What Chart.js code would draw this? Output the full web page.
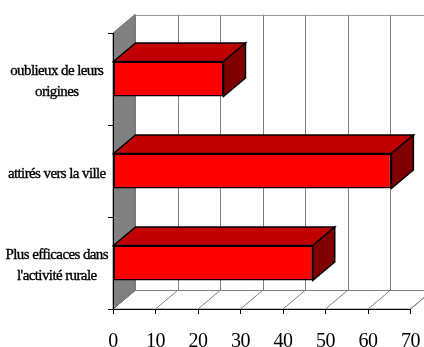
<!DOCTYPE html>
<html>
<head>
<meta charset="utf-8">
<script src="https://cdn.jsdelivr.net/npm/chart.js@4/dist/chart.umd.min.js"></script>
<style>
  html, body { margin: 0; padding: 0; background: #ffffff; }
  #wrap { width: 424px; height: 347px; }
</style>
</head>
<body>
<div id="wrap"><canvas id="c" width="424" height="347"></canvas></div>
<script>
// Survey answers, listed top to bottom
const categories = [
  ["oublieux de leurs", "origines"],
  ["attirés vers la ville"],
  ["Plus efficaces dans", "l'activité rurale"]
];
const values = [26, 65.5, 47];

// Value axis range
const axisMin = 0;
const axisMax = 70;
const axisStep = 10;

// Depth of the pseudo-3D box (pixels to the right / upwards)
const DEPTH_X = 22;
const DEPTH_Y = 18.5;

const FRONT = '#ff0000';
const TOP = '#c00000';
const SIDE = '#800000';
const WALL = '#808080';
const GRID = '#808080';

function setSpacing(ctx) {
  if ('letterSpacing' in ctx) ctx.letterSpacing = '-0.6px';
}

const box3d = {
  id: 'box3d',
  beforeUpdate(chart) { setSpacing(chart.ctx); },
  beforeDraw(chart) {
    const ctx = chart.ctx;
    setSpacing(ctx);
    const a = chart.chartArea;
    const xs = chart.scales.x;
    const L = a.left, R = a.right, T = a.top, B = a.bottom;
    ctx.save();
    // back wall
    ctx.fillStyle = '#ffffff';
    ctx.fillRect(L + DEPTH_X, T - DEPTH_Y, R - L, B - T);
    // vertical gridlines on the back wall
    ctx.strokeStyle = GRID;
    ctx.lineWidth = 1;
    xs.ticks.forEach(t => {
      const px = Math.round(xs.getPixelForValue(t.value) + DEPTH_X) + 0.5;
      ctx.beginPath();
      ctx.moveTo(px, T - DEPTH_Y);
      ctx.lineTo(px, B - DEPTH_Y);
      ctx.stroke();
    });
    // top edge of the back wall
    ctx.strokeStyle = '#9a9a9a';
    ctx.beginPath();
    ctx.moveTo(L + DEPTH_X, Math.round(T - DEPTH_Y) + 0.5);
    ctx.lineTo(R + DEPTH_X, Math.round(T - DEPTH_Y) + 0.5);
    ctx.stroke();
    // floor
    ctx.fillStyle = '#ffffff';
    ctx.strokeStyle = GRID;
    ctx.beginPath();
    ctx.moveTo(L, B);
    ctx.lineTo(R, B);
    ctx.lineTo(R + DEPTH_X, B - DEPTH_Y);
    ctx.lineTo(L + DEPTH_X, B - DEPTH_Y);
    ctx.closePath();
    ctx.fill();
    ctx.stroke();
    xs.ticks.forEach(t => {
      const px = xs.getPixelForValue(t.value);
      ctx.beginPath();
      ctx.moveTo(px, B);
      ctx.lineTo(px + DEPTH_X, B - DEPTH_Y);
      ctx.stroke();
    });
    // left side wall
    ctx.fillStyle = WALL;
    ctx.strokeStyle = '#707070';
    ctx.beginPath();
    ctx.moveTo(L, T);
    ctx.lineTo(L + DEPTH_X, T - DEPTH_Y);
    ctx.lineTo(L + DEPTH_X, B - DEPTH_Y);
    ctx.lineTo(L, B);
    ctx.closePath();
    ctx.fill();
    ctx.stroke();
    ctx.restore();
  },
  beforeDatasetsDraw(chart) {
    const ctx = chart.ctx;
    const meta = chart.getDatasetMeta(0);
    ctx.save();
    ctx.lineWidth = 1.5;
    ctx.strokeStyle = '#000000';
    ctx.lineJoin = 'miter';
    meta.data.forEach(bar => {
      const p = bar.getProps(['x', 'y', 'base', 'height'], true);
      const top = p.y - p.height / 2;
      const bot = p.y + p.height / 2;
      // top face
      ctx.fillStyle = TOP;
      ctx.beginPath();
      ctx.moveTo(p.base, top);
      ctx.lineTo(p.x, top);
      ctx.lineTo(p.x + DEPTH_X, top - DEPTH_Y);
      ctx.lineTo(p.base + DEPTH_X, top - DEPTH_Y);
      ctx.closePath();
      ctx.fill();
      ctx.stroke();
      // end face
      ctx.fillStyle = SIDE;
      ctx.beginPath();
      ctx.moveTo(p.x, top);
      ctx.lineTo(p.x + DEPTH_X, top - DEPTH_Y);
      ctx.lineTo(p.x + DEPTH_X, bot - DEPTH_Y);
      ctx.lineTo(p.x, bot);
      ctx.closePath();
      ctx.fill();
      ctx.stroke();
    });
    ctx.restore();
  }
};

new Chart(document.getElementById('c'), {
  type: 'bar',
  data: {
    labels: categories,
    datasets: [{
      data: values,
      backgroundColor: FRONT,
      borderColor: '#000000',
      borderWidth: 1.5,
      borderSkipped: false,
      categoryPercentage: 1,
      barPercentage: 0.38
    }]
  },
  options: {
    indexAxis: 'y',
    responsive: false,
    animation: false,
    devicePixelRatio: 1,
    layout: { padding: { top: 33, right: 13.5, left: 0, bottom: 0 } },
    plugins: { legend: { display: false }, tooltip: { enabled: false } },
    scales: {
      x: {
        min: axisMin,
        max: axisMax,
        afterFit(s) { s.height = 38; s.paddingLeft = 0; s.paddingRight = 0; },
        grid: { drawOnChartArea: false, drawTicks: true, tickLength: 5, color: '#000000' },
        border: { display: true, color: '#000000', width: 1 },
        ticks: {
          stepSize: axisStep,
          padding: 16,
          color: '#000000',
          font: { family: '"Liberation Serif", "Times New Roman", serif', size: 20 }
        }
      },
      y: {
        afterFit(s) { s.width = 113; s.paddingTop = 0; s.paddingBottom = 0; },
        grid: { offset: true, drawOnChartArea: false, drawTicks: true, tickLength: 5, color: '#000000' },
        border: { display: true, color: '#000000', width: 1 },
        ticks: {
          autoSkip: false,
          crossAlign: 'center',
          padding: 0,
          labelOffset: 3,
          color: '#000000',
          textStrokeColor: '#000000',
          textStrokeWidth: 0.35,
          font: { family: '"Liberation Serif", "Times New Roman", serif', size: 15, lineHeight: 1.4 }
        }
      }
    }
  },
  plugins: [box3d]
});
</script>
</body>
</html>
